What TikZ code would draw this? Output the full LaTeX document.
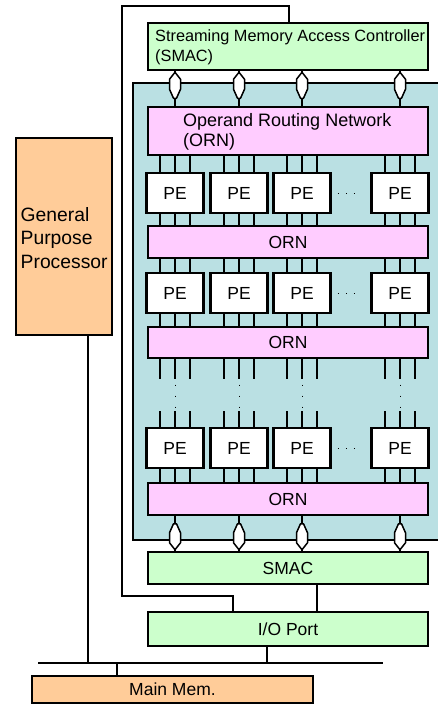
\documentclass[tikz,border=0pt]{standalone}
\usepackage{fontspec}
\setmainfont{Liberation Sans}
\definecolor{smacgreen}{RGB}{204,255,204}
\definecolor{ornpink}{RGB}{255,204,255}
\definecolor{hostorange}{RGB}{255,204,153}
\definecolor{arrayteal}{RGB}{186,224,227}
\tikzset{
  blk/.style={draw, line width=2.5pt, inner sep=0pt},
  smacbox/.style={blk, fill=smacgreen, minimum width=280pt, minimum height=32pt},
  ornbox/.style={blk, fill=ornpink, minimum width=280pt, minimum height=32pt},
  pebox/.style={blk, fill=white, minimum width=57pt, minimum height=40pt},
  wire/.style={line width=2pt},
  stub/.style={line width=1.8pt},
  dotrow/.style={line width=1pt, dash pattern=on 1pt off 7pt},
  dotcol/.style={line width=1pt, dash pattern=on 1pt off 10pt},
  bustip/.pic={\draw[line width=1.5pt, fill=white, line join=round]
    (0,0) -- (5.5,7) -- (5.5,17) -- (1.5,26) -- (-1.5,26) -- (-5.5,17) -- (-5.5,7) -- cycle;}
}
\begin{document}
\begin{tikzpicture}[x=1pt, y=-1pt, every node/.style={font=\fontsize{17.5}{20}\selectfont}]
  \useasboundingbox (0,0) rectangle (438,707);
  % host side
  \node[blk, fill=hostorange, minimum width=96pt, minimum height=197pt] (gpp) at (64,236.5) {};
  \node[anchor=west, align=left, inner sep=0pt, font=\fontsize{19.3}{23.5}\selectfont] (gpptxt) at (20.5,238) {General\\Purpose\\Processor};
  \node[blk, fill=hostorange, minimum width=281pt, minimum height=27pt] (mem) at (172.5,689.5) {Main Mem.};
  % array (runs off the right edge)
  \node[fill=arrayteal, inner sep=0pt, minimum width=305pt, minimum height=457pt] (arr) at (285.5,311.5) {};
  \draw[line width=2.5pt] (arr.north east) -| (arr.south west) -- (arr.south east);
  \node[smacbox, minimum height=47pt] (smac) at (288,46.5) {};
  \node[anchor=west, align=left, inner sep=0pt, font=\fontsize{16.3}{20}\selectfont] (smactxt) at (155,47) {Streaming Memory Access Controller\\(SMAC)};
  \node[ornbox, minimum height=48pt] (orn0) at (288,131) {};
  \node[anchor=west, align=left, inner sep=0pt, font=\fontsize{18}{20}\selectfont] (orntxt) at (183,131.5) {Operand Routing Network\\(ORN)};
  \node[ornbox] (orn1) at (288,242) {ORN};
  \node[ornbox, minimum height=31pt] (orn2) at (288,342.5) {ORN};
  \node[ornbox] (orn3) at (288,499) {ORN};
  \foreach \c/\px in {1/175,2/239,3/302,4/400} {
    \foreach \r/\py in {1/193,2/293,3/448}
      \node[pebox] (pe\r\c) at (\px,\py) {PE};
  }
  \node[smacbox] (smac2) at (288,568) {SMAC};
  \node[smacbox, minimum height=34pt] (io) at (288,629) {I/O Port};
  % ORN <-> PE links
  \foreach \c/\px in {1/175,2/239,3/302,4/400} \foreach \dx in {-15,0,15} {
    \coordinate (s) at (\px+\dx,0);
    \draw[stub] (orn0.south -| s) -- (pe1\c.north -| s);
    \draw[stub] (pe1\c.south -| s) -- (orn1.north -| s);
    \draw[stub] (orn1.south -| s) -- (pe2\c.north -| s);
    \draw[stub] (pe2\c.south -| s) -- (orn2.north -| s);
    \draw[stub] (orn2.south -| s) -- ++(0,20);
    \draw[stub] (pe3\c.north -| s) -- ++(0,-16);
    \draw[stub] (pe3\c.south -| s) -- (orn3.north -| s);
  }
  \foreach \px in {175,239,302,400}
    \draw[dotcol] (\px,384.5) -- (\px,408);
  \foreach \r in {1,2,3}
    \draw[dotrow] ([xshift=6pt]pe\r3.east) -- ([xshift=-9pt]pe\r4.west);
  % SMAC <-> ORN
  \foreach \c in {1,...,4} {
    \draw[wire] (orn0.north -| pe1\c) -- (smac.south -| pe1\c);
    \pic at ([yshift=-1pt]smac.south -| pe1\c) {bustip};
    \draw[wire] (orn3.south -| pe3\c) -- (smac2.north -| pe3\c);
    \pic[rotate=180] at ([yshift=1pt]smac2.north -| pe3\c) {bustip};
  }
  % wiring
  \coordinate (ctl) at (122,6);
  \coordinate (cio) at (233,596);
  \coordinate (cgo) at (289,6);
  \draw[wire] (io.north -| cio) -- (cio) -| (ctl) -- (cgo) -- (smac.north -| cgo);
  \coordinate (linkx) at (317,0);
  \draw[wire] (smac2.south -| linkx) -- (io.north -| linkx);
  \coordinate (busl) at (38,663);
  \coordinate (busr) at (383,663);
  \draw[wire] (busl) -- (busr);
  \coordinate (iox) at (267,0);
  \draw[wire] (io.south -| iox) -- (busl -| iox);
  \coordinate (gpx) at (88,0);
  \draw[wire] (gpp.south -| gpx) -- (busl -| gpx);
  \coordinate (memx) at (117,0);
  \draw[wire] (busl -| memx) -- (mem.north -| memx);
\end{tikzpicture}
\end{document}
